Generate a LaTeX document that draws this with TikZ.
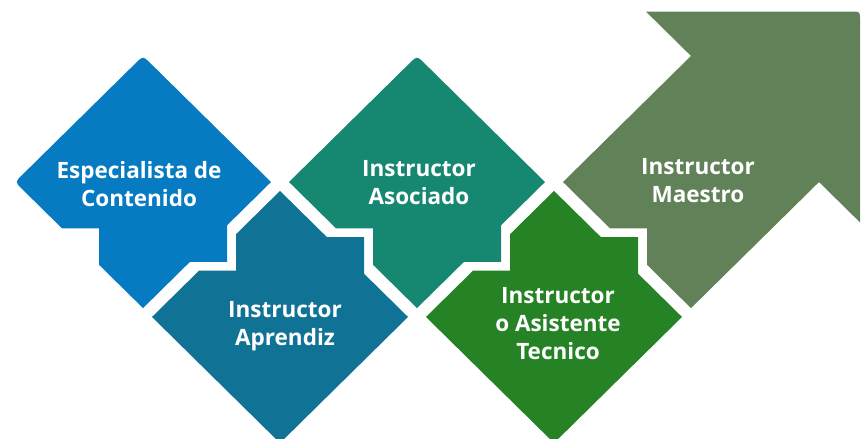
\documentclass[tikz,border=0pt]{standalone}
\usepackage{fontspec}
\setsansfont{Open Sans}
\usetikzlibrary{positioning}
\definecolor{especialistacol}{RGB}{6,123,194}
\definecolor{aprendizcol}{RGB}{16,115,150}
\definecolor{asociadocol}{RGB}{22,135,113}
\definecolor{tecnicocol}{RGB}{37,130,37}
\definecolor{maestrocol}{RGB}{97,129,88}
\tikzset{steplabel/.style={text=white,align=center,inner sep=0pt,
font=\sffamily\bfseries\fontsize{22.5}{28}\selectfont}}
\tikzset{stepshape/.style={draw=none}}

\begin{document}
\begin{tikzpicture}[x=1pt,y=-0.985pt]
        \useasboundingbox (0,0) rectangle (867,444.7);
        \clip (0,0) rectangle (867,444.7);

        \coordinate (c1) at (143,184.8);
        \coordinate (c2) at (280,321.8);
        \coordinate (c3) at (417,184.8);
        \coordinate (c4) at (554,321.8);
        \coordinate (c5) at (691,184.8);

        % upper diamonds: step out at lower right, step in at lower left
        \fill[stepshape,especialistacol,shift={(c1)}] (-64,-64) -- (-7,-121) .. controls (0,-128) .. (7,-121)
            -- (128,0) -- (84,44) -- (84,81) -- (47,81) -- (0,128)
            -- (-44,84) -- (-44,47) -- (-81,47) -- (-121,7) .. controls (-128,0) .. (-121,-7) -- cycle;
        \fill[stepshape,asociadocol,shift={(c3)}] (-64,-64) -- (-7,-121) .. controls (0,-128) .. (7,-121)
            -- (128,0) -- (84,44) -- (84,81) -- (47,81) -- (0,128)
            -- (-44,84) -- (-44,47) -- (-81,47) -- (-128,0) -- cycle;

        % lower diamonds: step out at upper right, step in at upper left
        \fill[stepshape,aprendizcol,shift={(c2)}] (0,-128) -- (47,-81) -- (84,-81) -- (84,-44) -- (128,0)
            -- (0,128) -- (-128,0) -- (-81,-47) -- (-44,-47) -- (-44,-84) -- cycle;
        \fill[stepshape,tecnicocol,shift={(c4)}] (0,-128) -- (47,-81) -- (84,-81) -- (84,-44) -- (128,0)
            -- (0,128) -- (-128,0) -- (-81,-47) -- (-44,-47) -- (-44,-84) -- cycle;

        % arrow
        \fill[stepshape,maestrocol,shift={(c5)}] (0,-128) -- (-45,-173) -- (161,-173) .. controls (169,-173) .. (169,-165)
            -- (169,41) -- (128,0) -- (0,128)
            -- (-44,84) -- (-44,47) -- (-81,47) -- (-128,0) -- cycle;

        \node[steplabel] (especialista) at ([shift={(-4,2)}]c1) {Especialista de\\Contenido};
        \node[steplabel] (aprendiz) at ([shift={(5,9)}]c2) {Instructor\\Aprendiz};
        \node[steplabel] (asociado) at ([shift={(2,1)}]c3) {Instructor\\Asociado};
        \node[steplabel] (tecnico) at ([shift={(4,7)}]c4) {Instructor\\o Asistente\\Tecnico};
        \node[steplabel] (maestro) at ([shift={(7,-1)}]c5) {Instructor\\Maestro};
\end{tikzpicture}
\end{document}
